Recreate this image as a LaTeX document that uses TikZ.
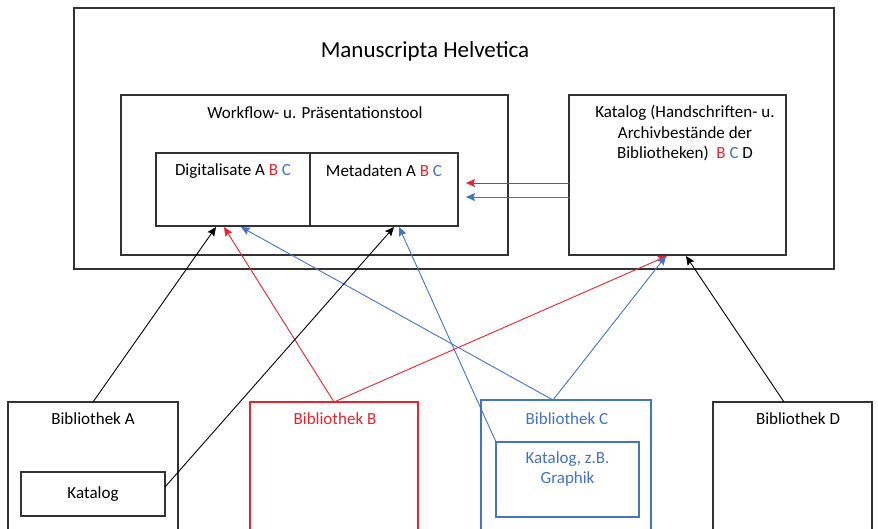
\documentclass[tikz,border=0pt]{standalone}
\usepackage{fontspec}
\setmainfont{Carlito}
\usetikzlibrary{arrows.meta}
\definecolor{mred}{RGB}{232,35,45}
\definecolor{mblue}{RGB}{68,114,196}
\begin{document}
\begin{tikzpicture}[x=1pt,y=-1pt,
 box/.style={draw=black!80,line width=1.2pt,inner sep=0pt,outer sep=0pt,rectangle},
 txt/.style={font=\fontsize{17}{20.5}\selectfont,inner sep=0pt,align=center},
 conn/.style={line width=0.9pt,-{Stealth[length=9pt,width=8pt,inset=1.5pt]}},
]
\useasboundingbox (0,0) rectangle (878,528);
\clip (0,0) rectangle (878,528);
\fill[white] (0,0) rectangle (878,528);

% boxes
\node[box,minimum width=760pt,minimum height=261pt] (outer) at (454,138.5) {};
\node[box,minimum width=387pt,minimum height=160pt] (workflow) at (314.5,175) {};
\node[box,minimum width=154pt,minimum height=73pt] (digit) at (233,189.5) {};
\node[box,minimum width=148pt,minimum height=73pt] (meta) at (384,189.5) {};
\node[box,minimum width=217pt,minimum height=160pt] (katalog) at (677.5,175) {};
\node[box,minimum width=170pt,minimum height=138pt] (bibA) at (93,471) {};
\node[box,minimum width=144pt,minimum height=44pt] (katA) at (93,494) {};
\node[box,draw=mred,minimum width=168pt,minimum height=138pt] (bibB) at (334,471) {};
\node[box,draw=mblue,minimum width=170pt,minimum height=140pt] (bibC) at (566,470) {};
\node[box,draw=mblue,minimum width=143pt,minimum height=75pt] (katC) at (567.5,479.5) {};
\node[box,minimum width=159pt,minimum height=138pt] (bibD) at (792.5,471) {};

% texts
\node[txt,font=\fontsize{23}{27}\selectfont] (title) at (425,51) {Manuscripta Helvetica};
\node[txt] (wftxt) at (315,113) {Workflow- u. Präsentationstool};
\node[txt] (digtxt) at (233,171) {Digitalisate A \textcolor{mred}{B} \textcolor{mblue}{C}};
\node[txt] (metatxt) at (384,171) {Metadaten A \textcolor{mred}{B} \textcolor{mblue}{C}};
\node[txt] (kattxt) at (685,133) {Katalog (Handschriften- u.\\Archivbestände der\\Bibliotheken)\ \ \textcolor{mred}{B} \textcolor{mblue}{C} D};
\node[txt] (bibAtxt) at (93,419) {Bibliothek A};
\node[txt] (katAtxt) at (93,494) {Katalog};
\node[txt,text=mred] (bibBtxt) at (335,419) {Bibliothek B};
\node[txt,text=mblue] (bibCtxt) at (567,419) {Bibliothek C};
\node[txt,text=mblue] (katCtxt) at (567.5,469) {Katalog, z.B.\\Graphik};
\node[txt] (bibDtxt) at (798,419) {Bibliothek D};

% connector ends
\coordinate (rTip) at (466,183);
\coordinate (bTip) at (466,197);
\coordinate (tA) at (216,227);
\coordinate (tB) at (224,227);
\coordinate (tC) at (241,227);
\coordinate (tKA) at (394,227);
\coordinate (tKC) at (399,227);
\coordinate (tBK) at (667,256);
\coordinate (tCK) at (666,256);
\coordinate (tDK) at (686,256);
\coordinate (sC) at (553,400);
\coordinate (sD) at (784,402);

% connectors
\draw[conn,mred] (rTip -| katalog.west) -- (rTip);
\draw[conn,mblue] (bTip -| katalog.west) -- (bTip);
\draw[conn,black] (bibA.north) -- (tA);
\draw[conn,mred] (bibB.north) -- (tB);
\draw[conn,mblue] (sC) -- (tC);
\draw[conn,black] ([yshift=7pt]katA.east) -- (tKA);
\draw[conn,mblue] (katC.north west) -- (tKC);
\draw[conn,mred] (bibB.north) -- (tBK);
\draw[conn,mblue] (sC) -- (tCK);
\draw[conn,black] (sD) -- (tDK);
\end{tikzpicture}
\end{document}
